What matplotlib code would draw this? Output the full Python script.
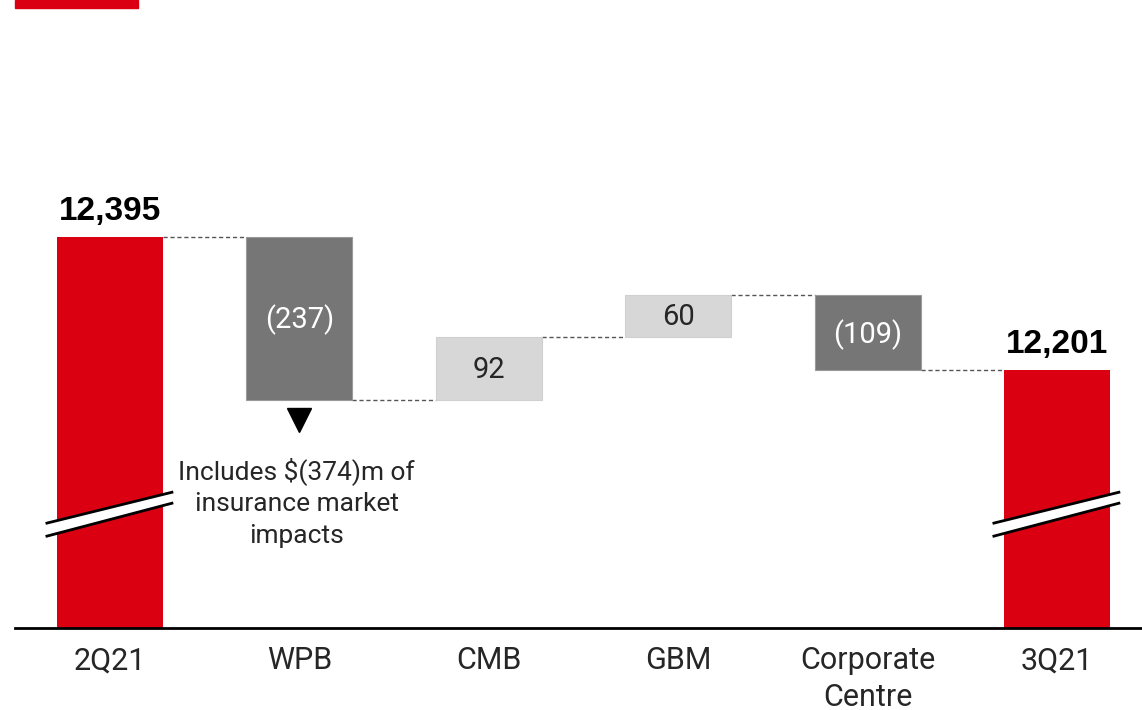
import numpy as np
import matplotlib.pyplot as plt
from matplotlib.patches import Polygon, Rectangle

# date
categorii = ["2Q21", "WPB", "CMB", "GBM", "Corporate\nCentre", "3Q21"]
start = 12395
variatii = [-237, 92, 60, -109]
final = 12201
etichete_var = ["(237)", "92", "60", "(109)"]
etichete_tot = ["12,395", "12,201"]
nota = "Includes $(374)m of\ninsurance market\nimpacts"

rosu = "#DB0011"
gri_inchis = "#767676"
gri_deschis = "#D7D7D7"
baza = 11825
text_col = "#262626"

plt.rcParams['font.family'] = ['Roboto', 'DejaVu Sans']

fig = plt.figure(figsize=(11.42, 7.10), dpi=100)
ax = fig.add_axes([15 / 1142, 82 / 710, 1 - 15 / 1142, 1 - 82 / 710])
ax.set_xlim(-0.5016, 5.449)
ax.set_ylim(baza, 12741)

x = np.arange(len(categorii))
w = 0.56

# barele de total
ax.bar(x[0], start - baza, bottom=baza, width=w, color=rosu, zorder=2)
ax.bar(x[-1], final - baza, bottom=baza, width=w, color=rosu, zorder=2)

# barele intermediare
niv = start
nivele = [start]
for i, v in enumerate(variatii):
    jos = min(niv, niv + v)
    culoare = gri_inchis if v < 0 else gri_deschis
    ax.bar(x[i + 1], abs(v), bottom=jos, width=w, color=culoare,
           edgecolor="#9a9a9a" if v < 0 else "#d0d0d0", linewidth=0.8, zorder=2)
    col_text = "white" if v < 0 else text_col
    ax.text(x[i + 1], jos + abs(v) / 2 - 2, etichete_var[i], ha="center", va="center",
            fontsize=21, color=col_text, zorder=3)
    niv = niv + v
    nivele.append(niv)

# liniile punctate intre bare
for i in range(len(nivele)):
    ax.plot([x[i] + w / 2, x[i + 1] - w / 2], [nivele[i], nivele[i]],
            color="#555555", linestyle=(0, (3, 2)), linewidth=1, zorder=1)

# etichetele totalurilor
for xi, val, et in [(x[0], start, etichete_tot[0]), (x[-1], final, etichete_tot[1])]:
    ax.annotate(et, (xi, val), xytext=(0, 7), textcoords="offset points",
                ha="center", va="bottom", fontsize=24, fontweight="bold",
                color="black", family=['Liberation Sans', 'DejaVu Sans'])

# semnele de intrerupere
for xi in [x[0], x[-1]]:
    xs = [xi - 0.333, xi + 0.327]
    sus = [11978, 12023]
    jos = [11959, 12007]
    poli = Polygon([[xs[0], jos[0]], [xs[1], jos[1]], [xs[1], sus[1]], [xs[0], sus[0]]],
                   closed=True, facecolor="white", edgecolor="none", zorder=4)
    ax.add_patch(poli)
    ax.plot(xs, sus, color="black", linewidth=2, zorder=5)
    ax.plot(xs, jos, color="black", linewidth=2, zorder=5)

# nota pentru WPB
ax.plot(x[1], 12128, marker="v", color="black", markersize=17, zorder=3)
ax.text(x[1] - 0.015, 12075, nota, ha="center", va="top", fontsize=19,
        color=text_col, linespacing=1.4)

# axele
ax.set_xticks(x)
ax.set_xticklabels(categorii, fontsize=22, color=text_col, linespacing=1.35)
ax.tick_params(axis="x", length=0, pad=13)
ax.set_yticks([])
for s in ["top", "right", "left"]:
    ax.spines[s].set_visible(False)
ax.spines["bottom"].set_linewidth(2)
ax.spines["bottom"].set_color("black")
ax.patch.set_alpha(0)

# dreptunghiul rosu din colt
fig.patches.append(Rectangle((15 / 1142, 1 - 8 / 710), 123 / 1142, 8 / 710,
                             transform=fig.transFigure, color=rosu, figure=fig))

plt.savefig("out.png", dpi=100)
